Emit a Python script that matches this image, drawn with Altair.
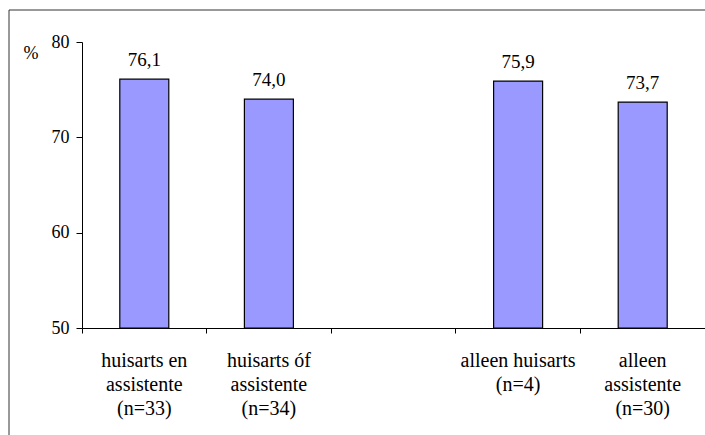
import altair as alt
import pandas as pd

# Groups (multi-line labels split on "|") and their mean percentages
categories = [
    "huisarts en|assistente|(n=33)",
    "huisarts óf|assistente|(n=34)",
    "alleen huisarts|(n=4)",
    "alleen|assistente|(n=30)",
]
values = [76.1, 74.0, 75.9, 73.7]

# An empty slot separates the two pairs of groups
spacer = " "
order = categories[:2] + [spacer] + categories[2:]
y_ticks = [50, 60, 70, 80]

df = pd.DataFrame({"groep": categories, "pct": values})

FONT = "Times New Roman, Liberation Serif, DejaVu Serif, serif"

x_enc = alt.X(
    "groep:N",
    scale=alt.Scale(domain=order, paddingInner=0, paddingOuter=0),
    axis=alt.Axis(
        title=None,
        labelAngle=0,
        bandPosition=0,
        labelExpr="split(datum.label, '|')",
        labelFontSize=20,
        labelLineHeight=24,
        labelPadding=17,
        labelOverlap=False,
        labelBound=False,
        labelFlush=False,
        tickSize=5,
        domainColor="black",
        tickColor="black",
    ),
)

y_enc = alt.Y(
    "pct:Q",
    scale=alt.Scale(domain=[50, 80], nice=False, zero=False),
    axis=alt.Axis(
        values=y_ticks,
        grid=False,
        labelFontSize=18,
        tickSize=6,
        labelPadding=7,
        domainColor="black",
        tickColor="black",
        title="%",
        titleAngle=0,
        titleX=-59,
        titleY=16,
        titleAlign="left",
        titleBaseline="alphabetic",
        titleFont=FONT,
        titleFontSize=18,
        titleFontWeight="normal",
        titleColor="black",
    ),
)

base = alt.Chart(df)

bars = base.mark_bar(
    color="#9999FF", stroke="black", strokeWidth=1.2, size=49
).encode(x=x_enc, y=y_enc, y2=alt.datum(50))

labels = base.mark_text(
    font=FONT, fontSize=19, color="black", baseline="alphabetic", dy=-13
).transform_calculate(
    lbl="replace(format(datum.pct, '.1f'), '.', ',')"
).encode(x=x_enc, y=y_enc, text="lbl:N")

# Frame around the whole figure (top and left edges visible)
frame_data = alt.Data(values=[{}])
frame_top = alt.Chart(frame_data).mark_rule(color="#333333", strokeWidth=1).encode(
    x=alt.value(-73), x2=alt.value(700), y=alt.value(-32)
)
frame_left = alt.Chart(frame_data).mark_rule(color="#333333", strokeWidth=1).encode(
    x=alt.value(-73), y=alt.value(-32), y2=alt.value(420)
)

chart = (
    alt.layer(bars, labels, frame_top, frame_left)
    .properties(
        width=623,
        height=286,
        autosize=alt.AutoSizeParams(type="none"),
        padding={"left": 82, "top": 42, "right": 0, "bottom": 107},
        background="white",
    )
    .configure_view(stroke=None)
    .configure_axis(
        labelFont=FONT,
        labelColor="black",
    )
)

chart.save("out.html", embed_options={"renderer": "svg", "actions": False})
